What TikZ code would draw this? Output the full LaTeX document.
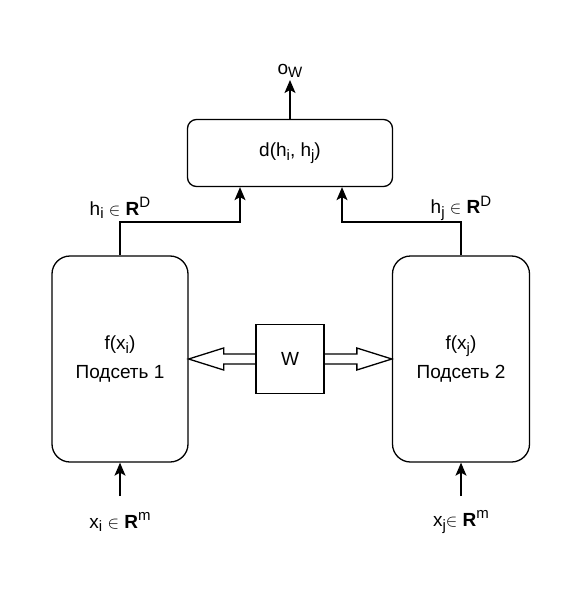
\documentclass[tikz,border=0pt]{standalone}
\usepackage{fontspec}
\setmainfont{Liberation Sans}
\usetikzlibrary{positioning}
\usetikzlibrary{arrows.meta}
\usetikzlibrary{calc}

\newcommand\lo[1]{\raisebox{-.35ex}{\fontsize{15}{15}\selectfont #1}}
\newcommand\hi[1]{\raisebox{.75ex}{\fontsize{15}{15}\selectfont #1}}
\newcommand\elem{{\fontsize{16}{16}\selectfont$\in$}}

\begin{document}
\begin{tikzpicture}
  [x=1pt,y=-1pt,
   every node/.style={font=\fontsize{19}{29}\selectfont},
   block/.style={rectangle,draw,line width=1.3pt,inner sep=0pt},
   connect/.style={line width=1.3pt,-{Stealth[length=13pt,width=11pt,inset=3pt]}},
   wide/.style={line width=1.3pt,line join=miter},
   label/.style={inner sep=1pt},
   node distance=6pt]
  \useasboundingbox (0,0) rectangle (582,599);

  \node (net1) [block,rounded corners=18pt,minimum width=136,minimum height=206,align=center]
    at (120,359) {f(x\lo{i})\\Подсеть 1};
  \node (net2) [block,rounded corners=18pt,minimum width=137,minimum height=206,align=center]
    at (461,359) {f(x\lo{j})\\Подсеть 2};
  \node (dist) [block,rounded corners=9pt,minimum width=205,minimum height=67]
    at (290,153) {d(h\lo{i}, h\lo{j})};
  \node (w) [block,minimum width=68,minimum height=69] at (290,359) {W};

  % outputs and inputs
  \coordinate (out) at (290,80);
  \node (ow) [label,above=1pt of out] {o\lo{W}};
  \draw [connect] (dist.north) -- (out);

  \coordinate (in1) at (120,496);
  \coordinate (in2) at (461,496);
  \node (x1) [label] at (120,522) {x\lo{i} \elem{} \textbf{R}\hi{m}};
  \node (x2) [label] at (461,522) {x\lo{j}\elem{} \textbf{R}\hi{m}};
  \draw [connect] (in1) -- (net1.south);
  \draw [connect] (in2) -- (net2.south);

  % embeddings
  \coordinate (h1) at (120,222);
  \coordinate (h2) at (461,222);
  \node [label] at (120,208) {h\lo{i} \elem{} \textbf{R}\hi{D}};
  \node [label] at (461,208) {h\lo{j} \elem{} \textbf{R}\hi{D}};
  \draw [connect] (net1.north) -- (h1) -| ($(dist.south)+(-50,0)$);
  \draw [connect] (net2.north) -- (h2) -| ($(dist.south)+(52,0)$);

  % shared weights
  \draw [wide] ($(w.west)+(0,-5)$) -- ($(net1.east)+(35,-5)$) -- ($(net1.east)+(35,-11)$)
    -- (net1.east) -- ($(net1.east)+(35,11)$) -- ($(net1.east)+(35,5)$) -- ($(w.west)+(0,5)$);
  \draw [wide] ($(w.east)+(0,-5)$) -- ($(net2.west)+(-35,-5)$) -- ($(net2.west)+(-35,-11)$)
    -- (net2.west) -- ($(net2.west)+(-35,11)$) -- ($(net2.west)+(-35,5)$) -- ($(w.east)+(0,5)$);
\end{tikzpicture}
\end{document}
